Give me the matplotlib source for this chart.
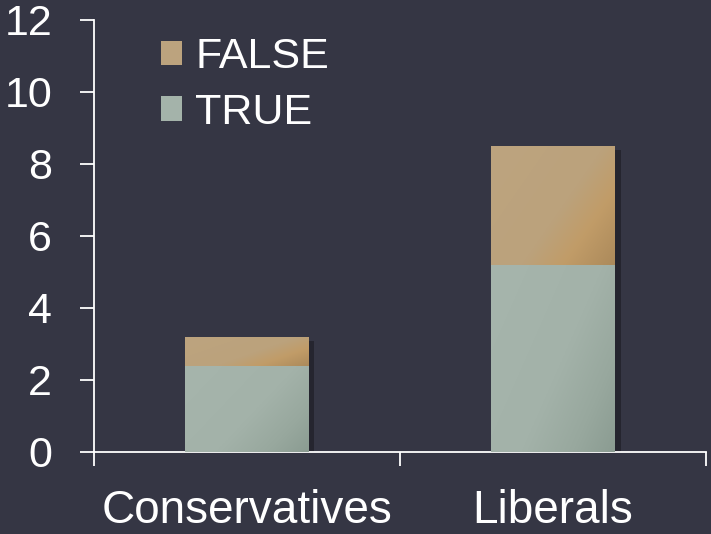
import numpy as np
import matplotlib
matplotlib.use("Agg")
import matplotlib.pyplot as plt
import matplotlib.patheffects as pe
from matplotlib.patches import Patch

groups = ["Conservatives", "Liberals"]
true_vals = [2.4, 5.2]
false_vals = [0.8, 3.3]
yticks = [0, 2, 4, 6, 8, 10, 12]

bg = "#353644"
true_col = "#a4b3aa"
false_col = "#bca37e"

plt.rcParams["font.family"] = ["Liberation Sans", "DejaVu Sans"]

fig = plt.figure(figsize=(7.11, 5.34), dpi=100, facecolor=bg)
ax = fig.add_axes([0.132, 0.1536, 0.861, 0.809], facecolor=bg)


def shade(stops, n=80):
    # diagonal shading, light top-left fading to darker bottom-right
    u = np.linspace(0, 1, n)
    U, V = np.meshgrid(u, u)
    t = np.clip((U * 0.6 + V * 0.4), 0, 1)
    pos = np.array([s[0] for s in stops])
    cols = np.array([matplotlib.colors.to_rgb(s[1]) for s in stops])
    img = np.zeros((n, n, 3))
    for c in range(3):
        img[..., c] = np.interp(t, pos, cols[:, c])
    return img


true_stops = [(0, "#a6b5ac"), (0.55, "#a3b2a9"), (0.8, "#98a89e"), (1, "#8b9c92")]
false_stops = [(0, "#bda47f"), (0.55, "#bba27c"), (0.75, "#c19c68"), (1, "#ac8a5b")]

x = np.arange(len(groups))
w = 0.405
shadow = [pe.SimplePatchShadow(offset=(4, -3), shadow_rgbFace="black", alpha=0.3), pe.Normal()]
b1 = ax.bar(x, true_vals, w, color=true_col, path_effects=shadow, zorder=2)
b2 = ax.bar(x, false_vals, w, bottom=true_vals, color=false_col, path_effects=shadow, zorder=2)

for bars, stops in [(b1, true_stops), (b2, false_stops)]:
    for p in bars:
        x0, y0 = p.get_x(), p.get_y()
        im = ax.imshow(shade(stops), extent=[x0, x0 + p.get_width(), y0, y0 + p.get_height()],
                       origin="upper", aspect="auto", zorder=3, interpolation="bilinear")
        im.set_clip_path(p)

ax.set_xlim(-0.5, 1.5)
ax.set_ylim(0, 12)

for s in ["top", "right"]:
    ax.spines[s].set_visible(False)
for s in ["left", "bottom"]:
    ax.spines[s].set_color("white")
    ax.spines[s].set_linewidth(1.3)

ax.set_yticks(yticks)
ax.tick_params(axis="y", colors="white", length=10, width=1.3, labelsize=31, pad=20)
ax.set_xticks([-0.5, 0.5, 1.5])
ax.set_xticklabels([])
ax.set_xticks(x, minor=True)
ax.set_xticklabels(groups, minor=True)
ax.tick_params(axis="x", which="major", colors="white", length=10, width=1.3)
ax.tick_params(axis="x", which="minor", colors="white", length=0, labelsize=33, pad=27)

handles = [Patch(facecolor=false_col, label="FALSE"), Patch(facecolor=true_col, label="TRUE")]
leg = ax.legend(handles=handles, loc="upper left", bbox_to_anchor=(0.046, 1.05), frameon=False,
                fontsize=31, labelcolor="white", handlelength=0.5, handleheight=0.5,
                handletextpad=0.3, labelspacing=0.36)

fig.savefig("out.png", dpi=100, facecolor=bg)
